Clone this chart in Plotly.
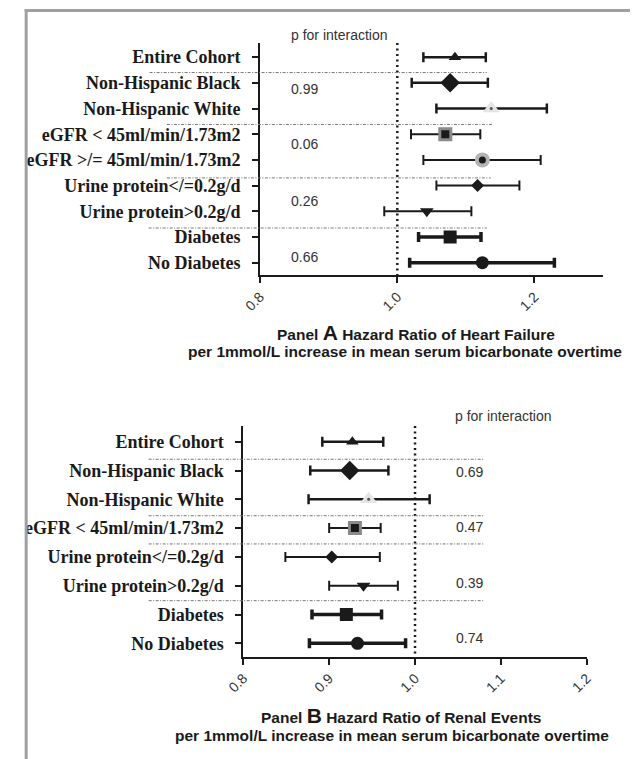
import plotly.graph_objects as go

W, H = 637, 759

# ---------------- data ----------------
labels_a = ["Entire Cohort", "Non-Hispanic Black", "Non-Hispanic White",
            "eGFR &lt; 45ml/min/1.73m2", "eGFR &gt;/= 45ml/min/1.73m2",
            "Urine protein&lt;/=0.2g/d", "Urine protein&gt;0.2g/d",
            "Diabetes", "No Diabetes"]
hr_a = [1.084, 1.077, 1.137, 1.070, 1.124, 1.117, 1.043, 1.077, 1.124]
lo_a = [1.038, 1.021, 1.057, 1.020, 1.038, 1.057, 0.981, 1.031, 1.018]
hi_a = [1.129, 1.132, 1.218, 1.121, 1.209, 1.178, 1.108, 1.122, 1.229]
p_a = ["0.99", "0.06", "0.26", "0.66"]
p_a_pos = [1.23, 3.4, 5.6, 7.76]
sep_a = [0.6, 2.62, 4.7, 6.65]

labels_b = ["Entire Cohort", "Non-Hispanic Black", "Non-Hispanic White",
            "eGFR &lt; 45ml/min/1.73m2",
            "Urine protein&lt;/=0.2g/d", "Urine protein&gt;0.2g/d",
            "Diabetes", "No Diabetes"]
hr_b = [0.927, 0.924, 0.946, 0.930, 0.903, 0.940, 0.920, 0.933]
lo_b = [0.892, 0.878, 0.876, 0.900, 0.849, 0.900, 0.880, 0.877]
hi_b = [0.963, 0.969, 1.017, 0.960, 0.959, 0.980, 0.961, 0.989]
p_b = ["0.69", "0.47", "0.39", "0.74"]
p_b_pos = [1.04, 2.95, 4.9, 6.8]
sep_b = [0.61, 2.57, 3.55, 5.52]

xticks_a = [0.8, 1.0, 1.2]
xticks_b = [0.8, 0.9, 1.0, 1.1, 1.2]

# ---------------- styles ----------------
sty_a = [
    dict(sym="triangle-up", col="#1a1a1a", size=11, th=2.5),
    dict(sym="diamond", col="#1a1a1a", size=15, th=2.5),
    dict(sym="triangle-up", col="#e4e4e4", size=15, th=2.5, dot=True),
    dict(sym="square", col="#8a8a8a", size=14, th=2, inner=("square", 8)),
    dict(sym="circle", col="#b4b4b4", size=15, th=2, inner=("circle", 7)),
    dict(sym="diamond", col="#1a1a1a", size=10, th=2),
    dict(sym="triangle-down", col="#1a1a1a", size=12, th=2),
    dict(sym="square", col="#1a1a1a", size=13, th=3.5),
    dict(sym="circle", col="#1a1a1a", size=13, th=3.5),
]
sty_b = [sty_a[0], sty_a[1], sty_a[2], sty_a[3], sty_a[5], sty_a[6], sty_a[7], sty_a[8]]


def px(x):
    return x / W


def py(y):
    return 1 - y / H


fig = go.Figure()


def add_panel(xa, ya, labels, hr, lo, hi, styles):
    for i in range(len(labels)):
        s = styles[i]
        fig.add_trace(go.Scatter(
            x=[hr[i]], y=[i], mode="markers", xaxis=xa, yaxis=ya,
            marker=dict(size=1, opacity=0),
            error_x=dict(type="data", symmetric=False, array=[hi[i] - hr[i]],
                         arrayminus=[hr[i] - lo[i]], thickness=s["th"],
                         width=5, color="#1a1a1a"),
            showlegend=False, hoverinfo="skip"))
        fig.add_trace(go.Scatter(
            x=[hr[i]], y=[i], mode="markers", xaxis=xa, yaxis=ya,
            marker=dict(symbol=s["sym"], size=s["size"], color=s["col"], line=dict(width=0)),
            showlegend=False, hoverinfo="skip"))
        if "inner" in s:
            fig.add_trace(go.Scatter(
                x=[hr[i]], y=[i], mode="markers", xaxis=xa, yaxis=ya,
                marker=dict(symbol=s["inner"][0], size=s["inner"][1], color="#1a1a1a",
                            line=dict(width=0)),
                showlegend=False, hoverinfo="skip"))
        if s.get("dot"):
            fig.add_trace(go.Scatter(
                x=[hr[i]], y=[i], mode="markers", xaxis=xa, yaxis=ya,
                marker=dict(symbol="circle", size=3, color="#555"),
                showlegend=False, hoverinfo="skip"))


add_panel("x", "y", labels_a, hr_a, lo_a, hi_a, sty_a)
add_panel("x2", "y2", labels_b, hr_b, lo_b, hi_b, sty_b)

label_font = dict(family="Liberation Serif", size=18, color="#1a1a1a", weight="bold")
tick_font = dict(family="Liberation Sans", size=14, color="#333")

common_x = dict(showline=True, linewidth=2, linecolor="#1a1a1a", ticks="outside",
                ticklen=6, tickwidth=2, tickcolor="#1a1a1a", tickangle=-45,
                showgrid=False, zeroline=False, tickfont=tick_font)
common_y = dict(showline=True, linewidth=2, linecolor="#1a1a1a", ticks="outside",
                ticklen=6, tickwidth=2, tickcolor="#1a1a1a", showgrid=False,
                zeroline=False, tickfont=label_font, ticklabelstandoff=8)

fig.update_layout(
    width=W, height=H, margin=dict(l=0, r=0, t=0, b=0),
    paper_bgcolor="white", plot_bgcolor="white",
    xaxis=dict(domain=[px(252), px(609)], range=[0.8, 1.3], anchor="y",
               tickvals=xticks_a, ticktext=["%.1f" % v for v in xticks_a], **common_x),
    yaxis=dict(domain=[py(275.3), py(43)], range=[8.49, -0.55], anchor="x",
               tickvals=list(range(len(labels_a))), ticktext=labels_a, **common_y),
    xaxis2=dict(domain=[px(234.5), px(592)], range=[0.8, 1.2], anchor="y2",
                tickvals=xticks_b, ticktext=["%.1f" % v for v in xticks_b], **common_x),
    yaxis2=dict(domain=[py(656.7), py(426)], range=[7.465, -0.545], anchor="x2",
                tickvals=list(range(len(labels_b))), ticktext=labels_b, **common_y),
)

shapes = []
# reference lines at HR = 1
for xr, yr, rng in [("x", "y", (-0.55, 8.49)), ("x2", "y2", (-0.545, 7.465))]:
    shapes.append(dict(type="line", xref=xr, yref=yr, x0=1.0, x1=1.0, y0=rng[0], y1=rng[1],
                       line=dict(color="#1a1a1a", width=2.5, dash="2px,3.5px")))
# separators
sep_a_x = [(137, 488), (155, 494), (155, 492), (136, 488)]
for yv, (x0, x1) in zip(sep_a, sep_a_x):
    shapes.append(dict(type="line", xref="paper", yref="y", x0=px(x0), x1=px(x1), y0=yv, y1=yv,
                       line=dict(color="#777", width=1, dash="3px,1.5px,1px,1.5px")))
for yv in sep_b:
    shapes.append(dict(type="line", xref="paper", yref="y2", x0=px(136), x1=px(485), y0=yv, y1=yv,
                       line=dict(color="#777", width=1, dash="3px,1.5px,1px,1.5px")))
# outer frame
shapes.append(dict(type="line", xref="paper", yref="paper", x0=px(8.5), x1=px(8.5), y0=0, y1=py(9),
                   line=dict(color="#a0a0a0", width=3)))
shapes.append(dict(type="line", xref="paper", yref="paper", x0=px(7), x1=1, y0=py(10.5), y1=py(10.5),
                   line=dict(color="#a0a0a0", width=3)))
fig.update_layout(shapes=shapes)

ann = []
pfont = dict(family="Liberation Sans", size=14, color="#333")
ann.append(dict(text="p for interaction", xref="paper", yref="paper", x=px(282), y=py(35),
                xanchor="left", yanchor="middle", showarrow=False, font=pfont))
ann.append(dict(text="p for interaction", xref="paper", yref="paper", x=px(452.7), y=py(416),
                xanchor="left", yanchor="middle", showarrow=False, font=pfont))
for t, yv in zip(p_a, p_a_pos):
    ann.append(dict(text=t, xref="x", yref="y", x=0.842, y=yv, xanchor="left",
                    yanchor="middle", showarrow=False, font=pfont))
for t, yv in zip(p_b, p_b_pos):
    ann.append(dict(text=t, xref="x2", yref="y2", x=1.0457, y=yv, xanchor="left",
                    yanchor="middle", showarrow=False, font=pfont))

tfont = dict(family="Liberation Sans", size=15.5, color="#1a1a1a", weight="bold")
ann.append(dict(text="Panel <span style='font-size:21px'>A</span> Hazard Ratio of Heart Failure",
                xref="paper", yref="paper", x=px(414), y=py(332), xanchor="center",
                yanchor="middle", showarrow=False, font=tfont))
ann.append(dict(text="per 1mmol/L increase in mean serum bicarbonate overtime",
                xref="paper", yref="paper", x=px(403), y=py(351), xanchor="center",
                yanchor="middle", showarrow=False, font=tfont))
ann.append(dict(text="Panel <span style='font-size:21px'>B</span> Hazard Ratio of Renal Events",
                xref="paper", yref="paper", x=px(399), y=py(715.7), xanchor="center",
                yanchor="middle", showarrow=False, font=tfont))
ann.append(dict(text="per 1mmol/L increase in mean serum bicarbonate overtime",
                xref="paper", yref="paper", x=px(389), y=py(735), xanchor="center",
                yanchor="middle", showarrow=False, font=tfont))
fig.update_layout(annotations=ann)

fig.write_html("out.html", config={"displayModeBar": False},
               post_script="document.body.style.margin='0';")
